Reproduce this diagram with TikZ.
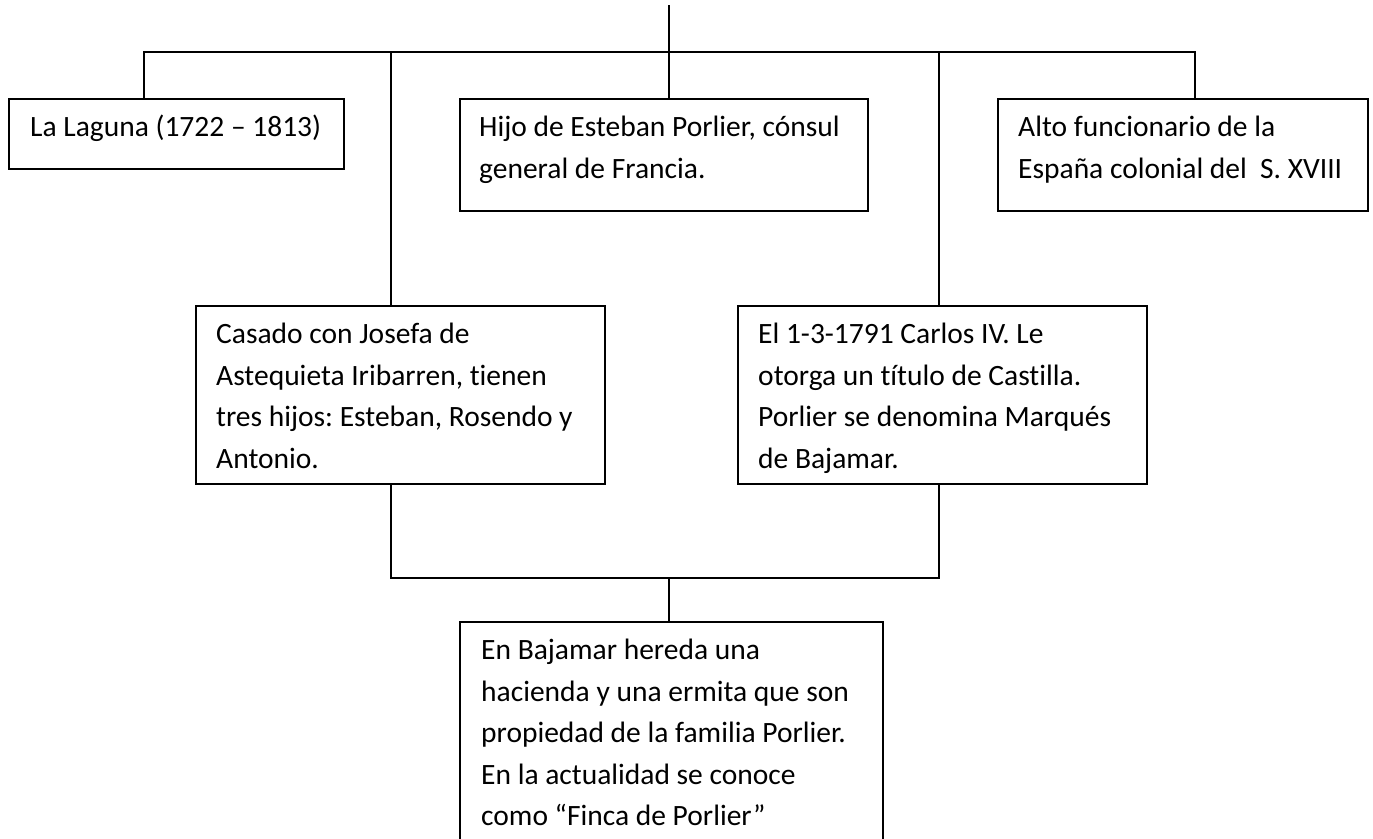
\documentclass[tikz,border=0pt]{standalone}
\usepackage{fontspec}
\setmainfont{Carlito}[Ligatures={NoCommon}]
\frenchspacing
\begin{document}
\begin{tikzpicture}[x=1pt,y=-1pt,
  box/.style={draw=black, line width=1.8pt, inner sep=0pt, anchor=north west},
  txt/.style={anchor=north west, inner sep=0pt, align=left, font=\fontsize{29.5}{41.5}\selectfont\frenchspacing},
  link/.style={draw=black, line width=1.8pt}]
\useasboundingbox (0,0) rectangle (1373,838);
\clip (0,0) rectangle (1373,838);
% boxes
\node[box, minimum width=335pt, minimum height=70pt] (b1) at (8,98) {};
\node[box, minimum width=408pt, minimum height=112pt] (b2) at (459,98) {};
\node[box, minimum width=370pt, minimum height=112pt] (b3) at (997,98) {};
\node[box, minimum width=409pt, minimum height=178pt] (b4) at (195,305) {};
\node[box, minimum width=409pt, minimum height=178pt] (b5) at (737,305) {};
\node[box, minimum width=423pt, minimum height=240pt] (b6) at (459,621) {};
% texts
\node[txt] (t1) at ([xshift=22pt,yshift=-9.5pt]b1.north west) {\strut La Laguna (1722 – 1813)};
\node[txt] (t2) at ([xshift=20pt,yshift=-9.5pt]b2.north west) {\strut Hijo de Esteban Porlier, cónsul\\general de Francia.};
\node[txt] (t3) at ([xshift=21pt,yshift=-9.5pt]b3.north west) {\strut Alto funcionario de la\\España colonial del \ S. XVIII};
\node[txt] (t4) at ([xshift=21pt,yshift=-9.5pt]b4.north west) {\strut Casado con Josefa de\\Astequieta Iribarren, tienen\\tres hijos: Esteban, Rosendo y\\Antonio.};
\node[txt] (t5) at ([xshift=21pt,yshift=-9.5pt]b5.north west) {\strut El 1-3-1791 Carlos IV. Le\\otorga un título de Castilla.\\Porlier se denomina Marqués\\de Bajamar.};
\node[txt] (t6) at ([xshift=22pt,yshift=-9.5pt]b6.north west) {\strut En Bajamar hereda una\\hacienda y una ermita que son\\propiedad de la familia Porlier.\\En la actualidad se conoce\\como “Finca de Porlier”};
% connectors
\coordinate (top) at (669,5);
\coordinate (busL) at (144,52);
\coordinate (busR) at (1195,52);
\coordinate (d4) at (391,52);
\coordinate (d5) at (939,52);
\coordinate (jL) at (391,578);
\coordinate (jR) at (939,578);
\coordinate (jC) at (669,578);
\draw[link] (top) -- (top |- b2.north);
\draw[link] (busL |- b1.north) -- (busL) -- (busR) -- (busR |- b3.north);
\draw[link] (d4) -- (d4 |- b4.north);
\draw[link] (d5) -- (d5 |- b5.north);
\draw[link] (b4.south -| jL) -- (jL) -- (jR) -- (b5.south -| jR);
\draw[link] (jC) -- (jC |- b6.north);
\end{tikzpicture}
\end{document}
